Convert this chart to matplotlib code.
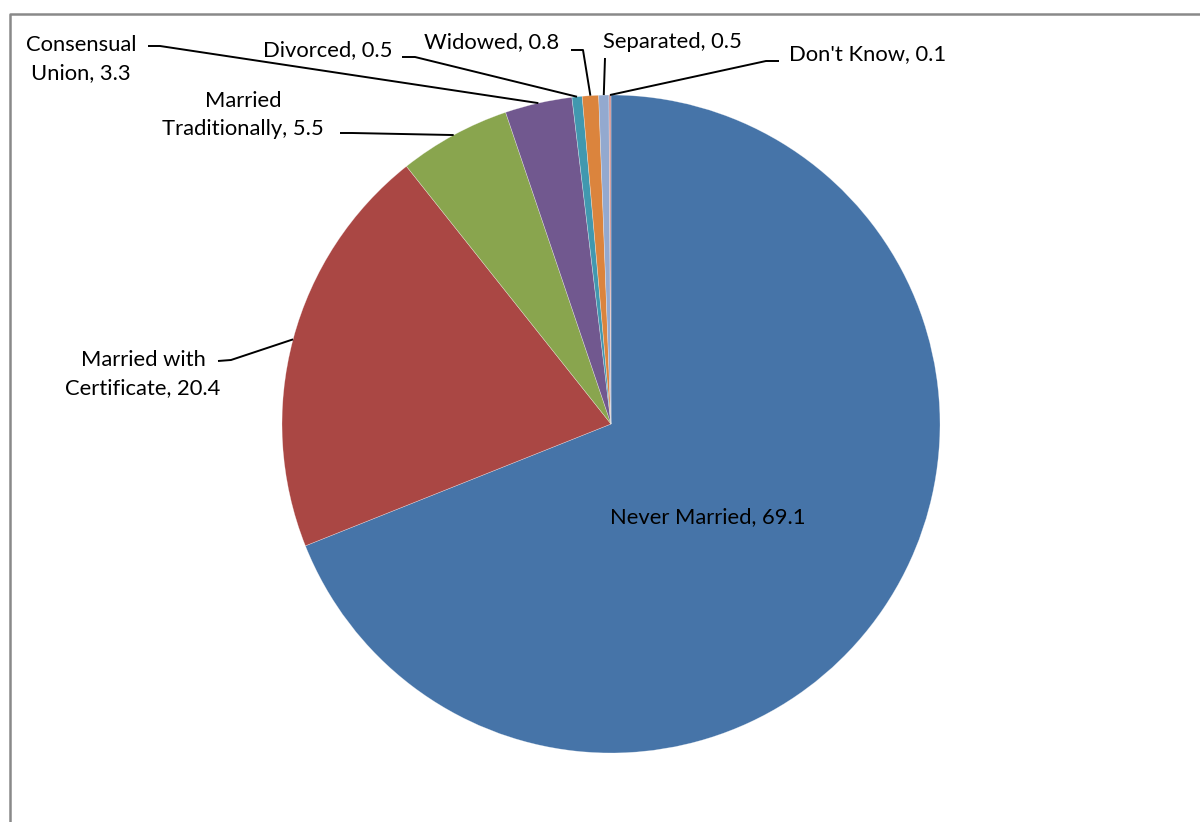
import numpy as np
import matplotlib
matplotlib.use("Agg")
import matplotlib.pyplot as plt
from matplotlib.lines import Line2D

categories = ["Never Married", "Married with\nCertificate", "Married\nTraditionally",
              "Consensual\nUnion", "Divorced", "Widowed", "Separated", "Don't Know"]
values = [69.1, 20.4, 5.5, 3.3, 0.5, 0.8, 0.5, 0.1]
colors = ["#4674A8", "#AA4744", "#89A54E", "#71588F", "#4198AF", "#DB843D", "#93A9CF", "#D19392"]

W, H = 1200, 822
plt.rcParams['font.family'] = ['Lato', 'DejaVu Sans']
fig = plt.figure(figsize=(W / 100, H / 100), dpi=100)
ax = fig.add_axes([0, 0, 1, 1])

cx, cy, r = 611, H - 424, 329
wedges, _ = ax.pie(values, colors=colors, startangle=90, counterclock=False,
                   center=(cx, cy), radius=r, frame=True,
                   wedgeprops=dict(edgecolor=(1, 1, 1, 0.45), linewidth=0.4))
ax.set_xlim(0, W)
ax.set_ylim(0, H)
ax.axis('off')
ax.set_aspect('auto')

fs = 15.8
# label layout: (text centre x, y in px from top, leader start points in px)
layout = {
    0: dict(xy=(708, 517), lead=None),
    1: dict(xy=(143, 374), lead=[(218, 361), (231, 360)]),
    2: dict(xy=(243, 115), lead=[(340, 133), (352, 133)]),
    3: dict(xy=(81, 59), lead=[(148, 46), (160, 46)]),
    4: dict(xy=(328, 50), lead=[(402, 57), (415, 57)]),
    5: dict(xy=(492, 42), lead=[(571, 50), (583, 50)]),
    6: dict(xy=(672, 42), lead=[(605, 58)]),
    7: dict(xy=(868, 54), lead=[(779, 61), (766, 61)]),
}

for i, w in enumerate(wedges):
    lay = layout[i]
    txt = f"{categories[i]}, {values[i]}"
    ax.text(lay['xy'][0], H - lay['xy'][1], txt, ha='center', va='center',
            fontsize=fs, color='black', linespacing=1.45)
    if lay['lead'] is not None:
        ang = np.deg2rad((w.theta1 + w.theta2) / 2)
        ex, ey = cx + r * np.cos(ang), cy + r * np.sin(ang)
        xs = [p[0] for p in lay['lead']] + [ex]
        ys = [H - p[1] for p in lay['lead']] + [ey]
        ax.plot(xs, ys, color='black', lw=1.4, solid_capstyle='butt')

# chart frame (left and top border)
ax.add_line(Line2D([10, 10, W], [0, H - 14, H - 14], color='#898989', lw=1.8))

fig.savefig("out.png", dpi=100)
